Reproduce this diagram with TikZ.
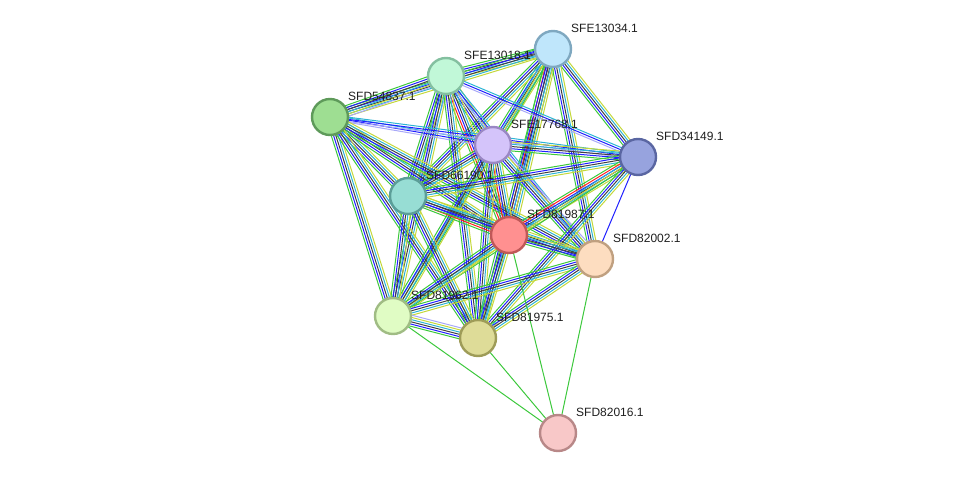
\documentclass[tikz,border=0pt]{standalone}
\usepackage{fontspec}
\setmainfont{Liberation Sans}
\usetikzlibrary{calc,backgrounds}
\definecolor{eg}{HTML}{3CC83C}
\definecolor{er}{HTML}{FF2020}
\definecolor{eb}{HTML}{2020FF}
\definecolor{ek}{HTML}{404040}
\definecolor{ec}{HTML}{2CB4D4}
\definecolor{ey}{HTML}{C4D83A}
\definecolor{el}{HTML}{A8A8F8}
\definecolor{fa}{HTML}{BFE6FB}\definecolor{da}{HTML}{7FA8C0}
\definecolor{fb}{HTML}{C1F8D8}\definecolor{db}{HTML}{84C0A0}
\definecolor{fc}{HTML}{9EDE92}\definecolor{dc}{HTML}{5E9A5A}
\definecolor{fd}{HTML}{D4C4FA}\definecolor{dd}{HTML}{9A88C4}
\definecolor{fe}{HTML}{97A3DE}\definecolor{de}{HTML}{5A66A2}
\definecolor{ff}{HTML}{97DDD4}\definecolor{df}{HTML}{5C9E98}
\definecolor{fg}{HTML}{FF9090}\definecolor{dg}{HTML}{C05858}
\definecolor{fh}{HTML}{FDDDC0}\definecolor{dh}{HTML}{C0A080}
\definecolor{fi}{HTML}{E0FCC4}\definecolor{di}{HTML}{A0BC84}
\definecolor{fj}{HTML}{DEDC98}\definecolor{dj}{HTML}{9E9C58}
\definecolor{fk}{HTML}{F8C8C8}\definecolor{dk}{HTML}{B88888}
\tikzset{
  nd/.style={circle, draw, line width=2.4pt, minimum size=36pt, inner sep=0pt},
  lbl/.style={anchor=west, font=\fontsize{12}{12}\selectfont, inner sep=0pt, text=black!88},
  eln/.style={line width=1pt},
}
\def\Sfull{eg/-4.4,eb/-2.2,ek/0,ec/2.2,ey/4.4}
\def\Sred{eg/-5.5,er/-3.3,eb/-1.1,ek/1.1,ec/3.3,ey/5.5}
\def\Slav{eg/-5.5,eb/-3.3,ek/-1.1,ec/1.1,ey/3.3,el/5.5}
\def\Slight{el/-2.2,eb/0,ec/2.2}
\def\Sg{eg/0}
\def\Sb{eb/0}
\def\Scy{ec/-2.2,ey/0,eg/2.2}
\newcommand\bund[3]{\foreach \c/\o in #3{\draw[eln,\c] ($(#1)!\o pt!90:(#2)$) -- ($(#2)!\o pt!-90:(#1)$);}}
\newcommand\lab[3]{\node[lbl] (#2) at ($(#1)+(18,-21)$) {#3};}
\begin{document}
\begin{tikzpicture}[x=1pt,y=-1pt]
\useasboundingbox (0,0) rectangle (975,479);
% nodes
\node[nd, fill=fa, draw=da] (a) at (553,49) {};
\node[nd, fill=fb, draw=db] (b) at (446,76) {};
\node[nd, fill=fc, draw=dc] (c) at (330,117) {};
\node[nd, fill=fd, draw=dd] (d) at (493,145) {};
\node[nd, fill=fe, draw=de] (e) at (638,157) {};
\node[nd, fill=ff, draw=df] (f) at (408,196) {};
\node[nd, fill=fg, draw=dg] (g) at (509,235) {};
\node[nd, fill=fh, draw=dh] (h) at (595,259) {};
\node[nd, fill=fi, draw=di] (i) at (393,316) {};
\node[nd, fill=fj, draw=dj] (j) at (478,338) {};
\node[nd, fill=fk, draw=dk] (k) at (558,433) {};
% labels
\lab{a}{la}{SFE13034.1}
\lab{b}{lb}{SFE13018.1}
\lab{c}{lc}{SFD54837.1}
\lab{d}{ld}{SFE17768.1}
\lab{e}{le}{SFD34149.1}
\lab{f}{lf}{SFD66190.1}
\lab{g}{lg}{SFD81987.1}
\lab{h}{lh}{SFD82002.1}
\lab{i}{li}{SFD81962.1}
\lab{j}{lj}{SFD81975.1}
\lab{k}{lk}{SFD82016.1}
\begin{pgfonlayer}{background}
\bund{a}{b}{\Sfull}
\bund{a}{c}{\Sfull}
\bund{a}{d}{\Sfull}
\bund{a}{e}{\Sfull}
\bund{a}{f}{\Sfull}
\bund{a}{g}{\Sred}
\bund{a}{h}{\Sfull}
\bund{a}{i}{\Scy}
\bund{a}{j}{\Sfull}
\bund{b}{c}{\Slav}
\bund{b}{d}{\Sfull}
\bund{b}{e}{\Slight}
\bund{b}{f}{\Slav}
\bund{b}{g}{\Sred}
\bund{b}{h}{\Slight}
\bund{b}{i}{\Sfull}
\bund{b}{j}{\Sfull}
\bund{c}{d}{\Slight}
\bund{c}{e}{\Slight}
\bund{c}{f}{\Sfull}
\bund{c}{g}{\Sfull}
\bund{c}{h}{\Sfull}
\bund{c}{i}{\Sfull}
\bund{c}{j}{\Sfull}
\bund{d}{e}{\Sfull}
\bund{d}{f}{\Sfull}
\bund{d}{g}{\Sred}
\bund{d}{h}{\Slav}
\bund{d}{i}{\Sfull}
\bund{d}{j}{\Sfull}
\bund{e}{f}{\Sfull}
\bund{e}{g}{\Sred}
\bund{e}{h}{\Sb}
\bund{e}{i}{\Scy}
\bund{e}{j}{\Sfull}
\bund{f}{g}{\Sred}
\bund{f}{h}{\Sfull}
\bund{f}{i}{\Sfull}
\bund{f}{j}{\Sfull}
\bund{g}{h}{\Sfull}
\bund{g}{i}{\Sfull}
\bund{g}{j}{\Sfull}
\bund{h}{i}{\Sfull}
\bund{h}{j}{\Sfull}
\bund{i}{j}{\Slav}
\bund{k}{i}{\Sg}
\bund{k}{j}{\Sg}
\bund{k}{g}{\Sg}
\bund{k}{h}{\Sg}
\end{pgfonlayer}
\end{tikzpicture}
\end{document}
